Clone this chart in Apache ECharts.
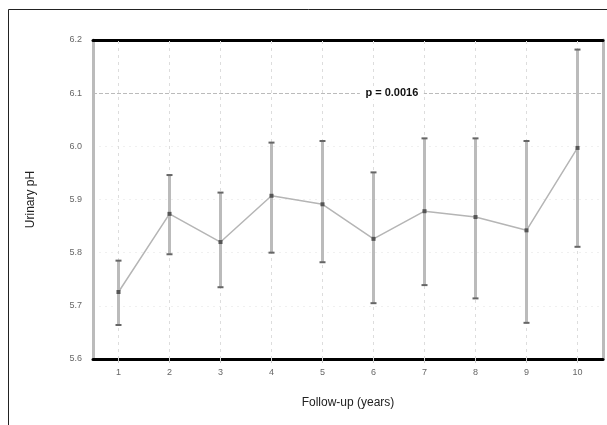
<!DOCTYPE html>
<html>
<head>
<meta charset="utf-8">
<script src="https://cdn.jsdelivr.net/npm/echarts@6/dist/echarts.min.js"></script>
<style>
html,body{margin:0;padding:0;background:#fff;}
#chart{width:607px;height:425px;}
</style>
</head>
<body>
<div id="chart"></div>
<script>
// 随访年份
var years = [1, 2, 3, 4, 5, 6, 7, 8, 9, 10];
// 尿pH均值及误差范围
var meanPH = [5.726, 5.873, 5.820, 5.907, 5.891, 5.826, 5.878, 5.867, 5.842, 5.997];
var lowPH = [5.664, 5.797, 5.735, 5.800, 5.782, 5.705, 5.739, 5.714, 5.668, 5.811];
var highPH = [5.785, 5.946, 5.913, 6.007, 6.010, 5.951, 6.015, 6.015, 6.010, 6.182];
var yTicks = ['5.6', '5.7', '5.8', '5.9', '6.0', '6.1', '6.2'];
var pLine = 6.1;
var pText = 'p = 0.0016';

var lineData = [];
var barData = [];
var gridLines = [];
for (var i = 0; i < years.length; i++) {
    lineData.push([years[i], meanPH[i]]);
    barData.push([years[i], lowPH[i], highPH[i]]);
    gridLines.push({xAxis: years[i], lineStyle: {color: '#ddd', type: [3, 4], width: 1}});
}
gridLines.push({yAxis: pLine, lineStyle: {color: '#bbb', type: [4, 2], width: 1}});

var myChart = echarts.init(document.getElementById('chart'));
var option = {
    animation: false,
    backgroundColor: '#fff',
    textStyle: {fontFamily: 'Liberation Sans, Arial, sans-serif'},
    graphic: [
        {
            type: 'rect',
            shape: {x: 8.5, y: 9.5, width: 620, height: 440},
            style: {fill: 'none', stroke: '#222', lineWidth: 1}
        }
    ],
    grid: {left: 93, right: 4, top: 40, bottom: 66},
    xAxis: [
        {
            type: 'value',
            min: 0.5,
            max: 10.5,
            name: 'Follow-up (years)',
            nameLocation: 'middle',
            nameGap: 38,
            nameTextStyle: {fontSize: 12, color: '#222'},
            axisLine: {show: true, onZero: false, lineStyle: {color: '#000', width: 3}},
            axisTick: {show: true, length: 4, customValues: years, lineStyle: {color: '#ccc'}},
            axisLabel: {fontSize: 9, color: '#666', margin: 9, customValues: years},
            splitLine: {show: false}
        },
        {
            type: 'value',
            position: 'top',
            min: 0.5,
            max: 10.5,
            axisLine: {show: true, onZero: false, lineStyle: {color: '#000', width: 3}},
            axisTick: {show: false},
            axisLabel: {show: false},
            splitLine: {show: false}
        }
    ],
    yAxis: [
        {
            type: 'value',
            min: 5.6,
            max: 6.2,
            interval: 0.1,
            name: 'Urinary pH',
            nameLocation: 'middle',
            nameGap: 56,
            nameRotate: 90,
            nameTextStyle: {fontSize: 12, color: '#222'},
            axisLine: {show: true, onZero: false, lineStyle: {color: '#bbb', width: 3}},
            axisTick: {show: false},
            axisLabel: {
                fontSize: 9, color: '#666', margin: 11,
                formatter: function (v) { return yTicks[Math.round((v - 5.6) * 10)]; }
            },
            splitLine: {show: true, lineStyle: {color: '#f0f0f0', type: [2, 4], width: 1}}
        },
        {
            type: 'value',
            position: 'right',
            min: 5.6,
            max: 6.2,
            axisLine: {show: true, onZero: false, lineStyle: {color: '#bbb', width: 3}},
            axisTick: {show: false},
            axisLabel: {show: false},
            splitLine: {show: false}
        }
    ],
    series: [
        {
            name: 'errorbar',
            type: 'custom',
            z: 3,
            renderItem: function (params, api) {
                var x = api.value(0);
                var lo = api.coord([x, api.value(1)]);
                var hi = api.coord([x, api.value(2)]);
                var w = 3;
                return {
                    type: 'group',
                    children: [
                        {
                            type: 'line',
                            shape: {x1: lo[0], y1: lo[1], x2: hi[0], y2: hi[1]},
                            style: {stroke: '#bbb', lineWidth: 3}
                        },
                        {
                            type: 'line',
                            shape: {x1: hi[0] - w, y1: hi[1], x2: hi[0] + w, y2: hi[1]},
                            style: {stroke: '#666', lineWidth: 2}
                        },
                        {
                            type: 'line',
                            shape: {x1: lo[0] - w, y1: lo[1], x2: lo[0] + w, y2: lo[1]},
                            style: {stroke: '#666', lineWidth: 2}
                        }
                    ]
                };
            },
            encode: {x: 0, y: [1, 2]},
            data: barData
        },
        {
            name: 'mean',
            type: 'line',
            z: 4,
            data: lineData,
            symbol: 'rect',
            symbolSize: 4,
            itemStyle: {color: '#555'},
            lineStyle: {color: '#b5b5b5', width: 1.5},
            markLine: {
                silent: true,
                symbol: 'none',
                label: {show: false},
                z: 1,
                data: gridLines
            },
            markPoint: {
                symbol: 'rect',
                symbolSize: [64, 12],
                itemStyle: {color: '#fff'},
                label: {
                    show: true,
                    formatter: pText,
                    color: '#111',
                    fontSize: 11,
                    fontWeight: 'bold'
                },
                data: [{coord: [6.36, pLine]}]
            }
        }
    ]
};
myChart.setOption(option);
</script>
</body>
</html>
